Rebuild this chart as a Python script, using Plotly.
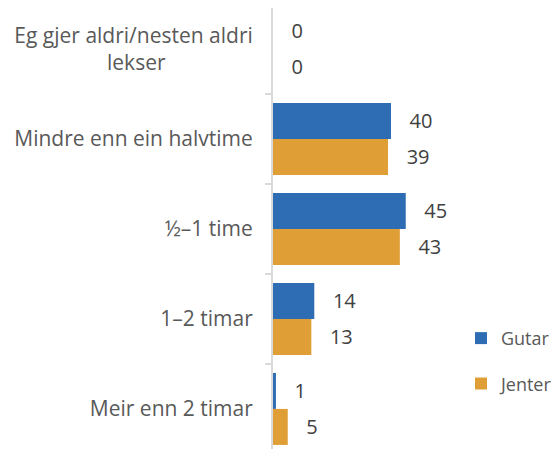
import plotly.graph_objects as go

categories = ["Eg gjer aldri/nesten aldri<br>lekser", "Mindre enn ein halvtime", "½–1 time", "1–2 timar", "Meir enn 2 timar"]
gutar = [0, 40, 45, 14, 1]
jenter = [0, 39, 43, 13, 5]

pad = "\u00a0" * 16
cats = [categories[0].replace("<br>lekser", "<br>lekser" + pad)] + categories[1:]

font = "Open Sans, sans-serif"
grey = "#404040"
lab = "#595959"

fig = go.Figure()
fig.add_trace(go.Bar(
    y=cats, x=gutar, orientation="h", name="Gutar",
    marker=dict(color="#2E6DB4", line=dict(width=0)),
    text=["\u00a0\u00a0\u00a0" + str(v) for v in gutar], textposition="outside",
    textfont=dict(size=20, color=grey, family=font), cliponaxis=False,
    legendgroup="g",
))
fig.add_trace(go.Bar(
    y=cats, x=jenter, orientation="h", name="Jenter",
    marker=dict(color="#E09F36", line=dict(width=0)),
    text=["\u00a0\u00a0\u00a0" + str(v) for v in jenter], textposition="outside",
    textfont=dict(size=20, color=grey, family=font), cliponaxis=False,
    legendgroup="j",
))

fig.update_layout(
    width=559, height=449,
    margin=dict(l=265, r=117, t=0, b=0, autoexpand=False),
    paper_bgcolor="white", plot_bgcolor="white",
    barmode="group", bargap=0.2, bargroupgap=0,
    font=dict(family=font, size=20, color=lab),
    showlegend=True,
    legend=dict(x=1.062, y=0.214, xanchor="left", yanchor="middle",
                traceorder="grouped", tracegroupgap=19,
                font=dict(size=18, color=lab), itemwidth=30),
    xaxis=dict(range=[0, 60], visible=False, showgrid=False, zeroline=False, automargin=False),
    yaxis=dict(type="category", range=[4.534, -0.455], showgrid=False, zeroline=False,
               automargin=False,
               showline=True, linecolor="#d9d9d9", linewidth=2,
               ticks="outside", tickson="boundaries", ticklen=6, tickcolor="#d9d9d9",
               tickwidth=2, ticklabelstandoff=14,
               tickfont=dict(size=21, color=lab, family=font)),
    uniformtext=dict(mode=False),
)

fig.write_html("out.html")
